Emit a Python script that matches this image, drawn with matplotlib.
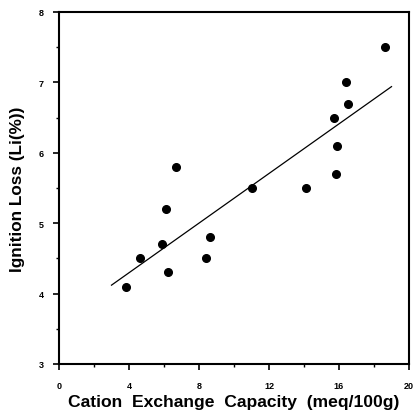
import matplotlib
matplotlib.use("Agg")
import matplotlib.pyplot as plt
from matplotlib.ticker import MultipleLocator

cec = [3.8, 4.6, 5.9, 6.1, 6.2, 6.7, 8.4, 8.6, 11.0, 14.1, 15.7, 15.8, 15.9, 16.4, 16.5, 18.6]
ign = [4.1, 4.5, 4.7, 5.2, 4.3, 5.8, 4.5, 4.8, 5.5, 5.5, 6.5, 5.7, 6.1, 7.0, 6.7, 7.5]
fit_x = [3.0, 19.0]
fit_y = [4.12, 6.94]
xticks = [0, 4, 8, 12, 16, 20]
yticks = [3, 4, 5, 6, 7, 8]

plt.rcParams['font.family'] = ['Liberation Sans', 'DejaVu Sans']
fig = plt.figure(figsize=(4.16, 4.14), dpi=100)
ax = fig.add_axes([59/416, 49/414, 350/416, 352/414])
ax.plot(fit_x, fit_y, color='black', lw=0.9)
ax.plot(cec, ign, 'o', color='black', markersize=5.5)
ax.set_xlim(0, 20)
ax.set_ylim(3, 8)
ax.set_xticks(xticks)
ax.set_yticks(yticks)
ax.xaxis.set_minor_locator(MultipleLocator(2))
ax.yaxis.set_minor_locator(MultipleLocator(0.5))
ax.tick_params(which='major', direction='out', length=4, width=1.2, labelsize=6.5)
ax.tick_params(axis='x', which='major', pad=8)
ax.tick_params(axis='y', which='major', pad=7)
ax.tick_params(which='minor', direction='out', length=2.5, width=1.0)
for lab in ax.get_xticklabels() + ax.get_yticklabels():
    lab.set_fontweight('bold')
for s in ax.spines.values():
    s.set_linewidth(1.5)
ax.set_xlabel('Cation  Exchange  Capacity  (meq/100g)', fontsize=12.6, fontweight='bold', labelpad=3)
ax.set_ylabel('Ignition Loss (Li(%))', fontsize=12.3, fontweight='bold', labelpad=10)
fig.savefig('out.png', dpi=100)
